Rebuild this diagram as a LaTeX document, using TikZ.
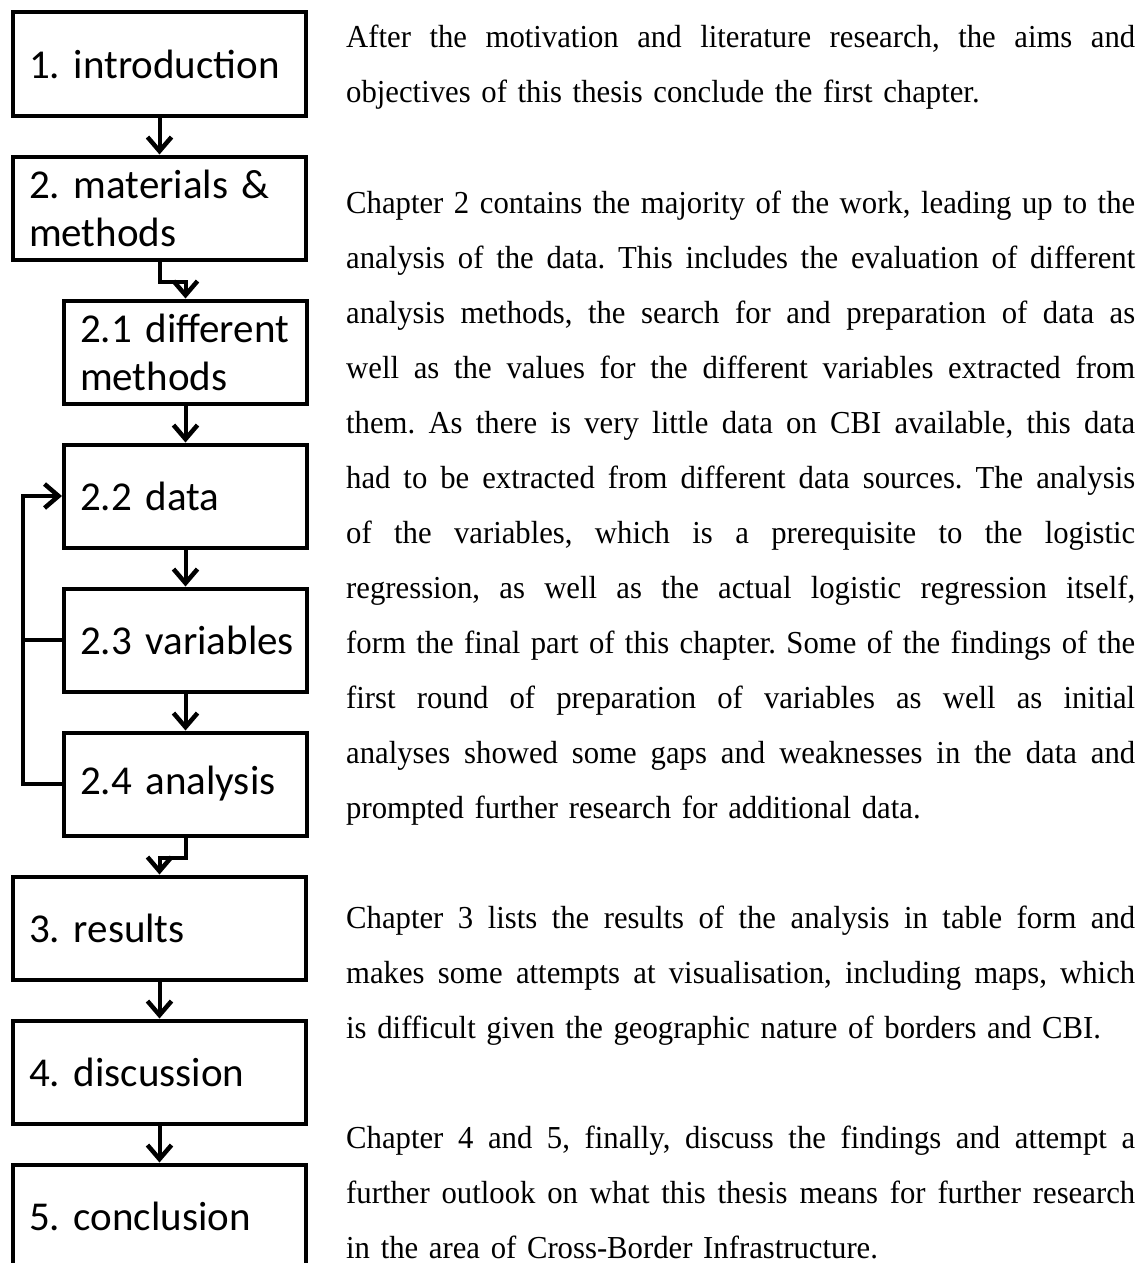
\documentclass[tikz,border=0pt]{standalone}
\usepackage{fontspec}
\setmainfont[FakeStretch=0.96]{Liberation Serif}
\newfontfamily\boxfont{Carlito}
\usetikzlibrary{arrows.meta}
\newlength\parw
\setlength\parw{789pt}
\newcommand\jline[1]{\leavevmode\hbox to\parw{\spaceskip=7.7pt plus 30pt minus 2.5pt\relax #1}}
\newcommand\ind{\hspace*{7pt}}
\frenchspacing
\begin{document}
\begin{tikzpicture}[x=1pt,y=-1pt,
  box/.style={draw, line width=4pt, minimum height=103pt, inner xsep=9pt, inner ysep=0pt,
    align=left, text width=#1, font=\boxfont\fontsize{41}{48}\selectfont\frenchspacing},
  mainbox/.style={box=275pt},
  subbox/.style={box=225pt},
  conn/.style={line width=4pt, -{Straight Barb[length=14pt, width=24pt, line width=4.5pt]}},
  plain/.style={line width=4pt},
  para/.style={anchor=base west, inner sep=0pt, text width=\parw, align=left,
    font=\fontsize{32}{55}\selectfont\frenchspacing}]
\useasboundingbox (0,0) rectangle (1145,1263);
\fill[white] (0,0) rectangle (1145,1263);

% flow boxes
\node[mainbox] (b1)  at (159.5,64)   {\ind 1. introduction};
\node[mainbox] (b2)  at (159.5,208)  {\ind 2. materials \&\\\ind methods};
\node[subbox]  (b21) at (185.5,352)  {\ind 2.1 different\\\ind methods};
\node[subbox]  (b22) at (185.5,496)  {\ind 2.2 data};
\node[subbox]  (b23) at (185.5,640)  {\ind 2.3 variables};
\node[subbox]  (b24) at (185.5,784)  {\ind 2.4 analysis};
\node[mainbox] (b3)  at (159.5,928)  {\ind 3. results};
\node[mainbox] (b4)  at (159.5,1072) {\ind 4. discussion};
\node[mainbox] (b5)  at (159.5,1216) {\ind 5. conclusion};

% connectors
\coordinate (fbx) at (23,0);
\draw[conn] (b1) -- (b2);
\draw[conn] (b2.south) -- ++(0,20) -| (b21.north);
\draw[conn] (b21) -- (b22);
\draw[conn] (b22) -- (b23);
\draw[conn] (b23) -- (b24);
\draw[conn] (b24.south) -- ++(0,20) -| (b3.north);
\draw[conn] (b3) -- (b4);
\draw[conn] (b4) -- (b5);
\draw[conn] (b24.west) -- (b24.west -| fbx) |- (b22.west);
\draw[plain] (b23.west) -- (b23.west -| fbx);

% text
\node[para] (p1) at (346,48) {\jline{After the motivation and literature research, the aims and}\\
objectives of this thesis conclude the first chapter.};
\node[para] (p2) at (346,213) {\jline{Chapter 2 contains the majority of the work, leading up to the}\\
\jline{analysis of the data. This includes the evaluation of different}\\
\jline{analysis methods, the search for and preparation of data as}\\
\jline{well as the values for the different variables extracted from}\\
\jline{them. As there is very little data on CBI available, this data}\\
\jline{had to be extracted from different data sources. The analysis}\\
\jline{of the variables, which is a prerequisite to the logistic}\\
\jline{regression, as well as the actual logistic regression itself,}\\
\jline{form the final part of this chapter. Some of the findings of the}\\
\jline{first round of preparation of variables as well as initial}\\
\jline{analyses showed some gaps and weaknesses in the data and}\\
prompted further research for additional data.};
\node[para] (p3) at (346,928) {\jline{Chapter 3 lists the results of the analysis in table form and}\\
\jline{makes some attempts at visualisation, including maps, which}\\
is difficult given the geographic nature of borders and CBI.};
\node[para] (p4) at (346,1148) {\jline{Chapter 4 and 5, finally, discuss the findings and attempt a}\\
\jline{further outlook on what this thesis means for further research}\\
in the area of Cross-Border Infrastructure.};
\end{tikzpicture}
\end{document}
